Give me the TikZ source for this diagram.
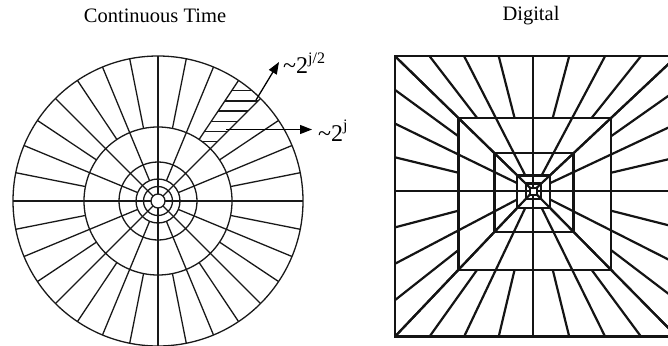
\documentclass[tikz,border=0pt]{standalone}
\usepackage{fontspec}
\setmainfont{Liberation Serif}
\usetikzlibrary{arrows.meta}
\begin{document}
\begin{tikzpicture}[x=1pt,y=-1pt,
  cline/.style={line width=1.3pt, draw=black!90},
  sline/.style={line width=2.2pt, draw=black!92},
  oline/.style={line width=2.6pt, draw=black!92},
  arr/.style={line width=1.3pt, draw=black, -{Triangle[length=12pt,width=9pt]}},
  title/.style={font=\fontsize{20.5}{24}\selectfont, anchor=base, inner sep=0pt},
  lab/.style={anchor=base west, inner sep=0pt}]
\useasboundingbox (0,0) rectangle (668,345);
\clip (0,0) rectangle (668,345);
\node[title] (t1) at (155,23) {Continuous Time};
\node[title] (t2) at (531,21) {Digital};
% ---------------- continuous tiling
\coordinate (C) at (158,201);
\begin{scope}[shift={(C)}]
  \begin{scope}
    \clip (-56.25:74) -- (-56.25:145) arc[start angle=-56.25,end angle=-45,radius=145]
          -- (-45:74) arc[start angle=-45,end angle=-56.25,radius=74] -- cycle;
    \foreach \y in {90.7,100.9,111.1,121.3,131.5,141.7}
      \draw[cline] (0,\y-201) -- (150,\y-201);
  \end{scope}
  \foreach \r in {145,74,39,22,14.5,7}
    \draw[cline] (0,0) circle[radius=\r];
  \foreach \a in {0,90,180,270}
    \draw[cline] (\a:7) -- (\a:145);
  \foreach \i [evaluate=\i as \a using \i*11.25] in {0,...,31}
    \draw[cline] (\a:74) -- (\a:145);
  \foreach \i [evaluate=\i as \a using \i*22.5] in {0,...,15}
    \draw[cline] (\a:22) -- (\a:74);
  \foreach \i [evaluate=\i as \a using \i*45] in {0,...,7}
    \draw[cline] (\a:7) -- (\a:22);
\end{scope}
\coordinate (a1s) at (256,100);
\coordinate (a1e) at (279,62);
\coordinate (a2s) at (226,129.5);
\coordinate (a2e) at (312,129.5);
\draw[arr] (a1s) -- (a1e);
\draw[arr] (a2s) -- (a2e);
\node[lab] (l1) at (283,74) {\fontsize{24}{28}\selectfont\textasciitilde 2\raisebox{10.5pt}{\fontsize{16}{19}\selectfont j/2}};
\node[lab] (l2) at (318,141) {\fontsize{24}{28}\selectfont\textasciitilde 2\raisebox{10.5pt}{\fontsize{16}{19}\selectfont j}};
% ---------------- digital tiling
\coordinate (S) at (533.3,191);
\foreach \sx/\sy in {-138.5/-135, 143.7/-135, -138.5/145.7, 143.7/145.7} {
  \begin{scope}[shift={(S)}, xscale=\sx, yscale=\sy]
    \draw[oline] (1,0) -- (1,1) -- (0,1);
    \foreach \s in {0.54,0.28,0.115,0.055,0.025}
      \draw[sline] (\s,0) -- (\s,\s) -- (0,\s);
    \draw[sline] (0.025,0) -- (1,0);
    \draw[sline] (0,0.025) -- (0,1);
    \foreach \k in {0.25,0.5,0.75,1} {
      \draw[sline] (0.54,0.54*\k) -- (1,\k);
      \draw[sline] (0.54*\k,0.54) -- (\k,1);
    }
    \foreach \k in {0.5,1} {
      \draw[sline] (0.28,0.28*\k) -- (0.54,0.54*\k);
      \draw[sline] (0.28*\k,0.28) -- (0.54*\k,0.54);
      \draw[sline] (0.115,0.115*\k) -- (0.28,0.28*\k);
      \draw[sline] (0.115*\k,0.115) -- (0.28*\k,0.28);
    }
    \draw[sline] (0.055,0.055) -- (0.115,0.115);
    \draw[sline] (0.025,0.025) -- (0.055,0.055);
  \end{scope}
}
\end{tikzpicture}
\end{document}
